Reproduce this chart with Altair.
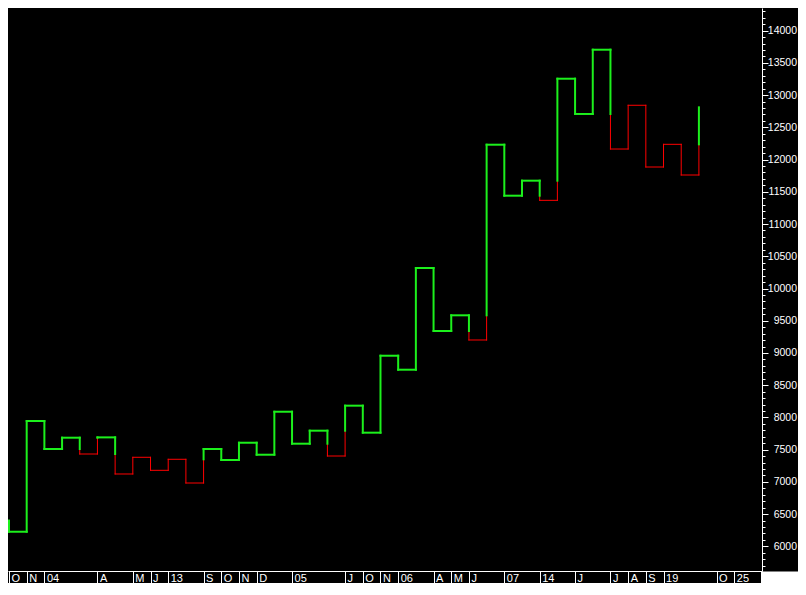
import altair as alt
import pandas as pd

# Kagi turning levels: opening level, then the level reached at each column 0..39
turn_values = [6397, 6226, 7944, 7510, 7685, 7432, 7690, 7122, 7381, 7179, 7350,
               6982, 7510, 7339, 7607, 7421, 8088, 7592, 7794, 7401, 8182,
               7763, 8957, 8740, 10318, 9341, 9584, 9201, 12231, 11440, 11673,
               11368, 13255, 12708, 13705, 12164, 12843, 11885, 12237, 11761, 12811]

# x-axis separator labels (column index -> text)
label_cols = [0, 1, 2, 5, 7, 8, 9, 11, 12, 13, 14, 16, 19, 20, 21, 22, 24, 25, 26,
              28, 30, 32, 34, 35, 36, 37, 40, 41]
label_texts = ["O", "N", "04", "A", "M", "J", "13", "S", "O", "N", "D", "05", "J", "O",
               "N", "06", "A", "M", "J", "07", "14", "J", "J", "A", "S", "19", "O", "25"]

YANG_COLOR = "#1CF01C"
YIN_COLOR = "#FF0000"

V = turn_values
segs = []
state = "yang"
segs.append(dict(x=-1, x2=0, y=V[0], y2=V[0], kind=state))
for j in range(len(V) - 1):
    a, b = V[j], V[j + 1]
    prev = V[j - 1] if j >= 1 else None
    if b < a:
        if state == "yang" and prev is not None and b < prev:
            segs.append(dict(x=j, x2=j, y=a, y2=prev, kind="yang"))
            segs.append(dict(x=j, x2=j, y=prev, y2=b, kind="yin"))
            state = "yin"
        else:
            segs.append(dict(x=j, x2=j, y=a, y2=b, kind=state))
    else:
        if state == "yin" and prev is not None and b > prev:
            segs.append(dict(x=j, x2=j, y=a, y2=prev, kind="yin"))
            segs.append(dict(x=j, x2=j, y=prev, y2=b, kind="yang"))
            state = "yang"
        else:
            segs.append(dict(x=j, x2=j, y=a, y2=b, kind=state))
    if j < len(V) - 2:
        segs.append(dict(x=j, x2=j + 1, y=b, y2=b, kind=state))

df = pd.DataFrame(segs)
df["color"] = df["kind"].map({"yang": YANG_COLOR, "yin": YIN_COLOR})
df["width"] = df["kind"].map({"yang": 2.0, "yin": 1.0})
df["rank"] = df["kind"].map({"yin": 0, "yang": 1})
df = df.sort_values("rank", kind="stable").reset_index(drop=True)

arr_txt = "[" + ",".join("'" + t + "'" for t in label_texts) + "]"
arr_pos = "[" + ",".join(str(p) for p in label_cols) + "]"
x_label_expr = arr_txt + "[indexof(" + arr_pos + ", datum.value)]"

W = 754
H = 563
PAD_R = 36
PAD_B = 12

lines = alt.Chart(df).mark_rule(clip=True, strokeCap="square").encode(
    x=alt.X("x:Q",
            scale=alt.Scale(domain=[-0.0565, 42.567], nice=False, zero=False),
            axis=alt.Axis(values=label_cols, labelExpr=x_label_expr, title=None,
                          grid=False, domainColor="white", domainWidth=1,
                          tickColor="white", tickSize=PAD_B, tickWidth=1,
                          labelColor="white", labelFont="Liberation Sans",
                          labelFontSize=11, labelAlign="left", labelBaseline="top",
                          labelPadding=1 - PAD_B, labelOffset=2, labelOverlap=False,
                          labelBound=False, labelFlush=False)),
    x2="x2:Q",
    y=alt.Y("y:Q",
            scale=alt.Scale(domain=[5616.8, 14352.2], nice=False, zero=False),
            axis=alt.Axis(orient="right", values=list(range(5700, 14301, 100)),
                          labelExpr="(datum.value % 500 == 0 && datum.value >= 6000) ? format(datum.value, 'd') : ''",
                          title=None, grid=False, domainColor="white", domainWidth=1,
                          tickColor="white", tickWidth=1,
                          tickSize={"condition": {"test": "datum.value % 500 == 0", "value": 6}, "value": 3},
                          labelColor="white", labelFont="Liberation Sans",
                          labelFontSize=10.5, labelAlign="right", labelBaseline="middle",
                          labelPadding=28.5, labelOverlap=False, labelBound=False,
                          labelFlush=False)),
    y2="y2:Q",
    color=alt.Color("color:N", scale=None),
    strokeWidth=alt.StrokeWidth("width:Q", scale=None),
)

corner = alt.Chart(pd.DataFrame({"a": [0]})).mark_rect(color="white").encode(
    x=alt.value(W - 1), x2=alt.value(W + PAD_R), y=alt.value(H + 0.5), y2=alt.value(H + PAD_B)
)

chart = alt.layer(lines, corner).properties(
    width=W, height=H,
    autosize=alt.AutoSizeParams(type="none"),
    padding={"left": 0, "top": 0, "right": PAD_R, "bottom": PAD_B},
    background="black",
).configure_view(strokeWidth=0, fill="black")

chart.save("out.html", embed_options={"renderer": "svg", "actions": False})
